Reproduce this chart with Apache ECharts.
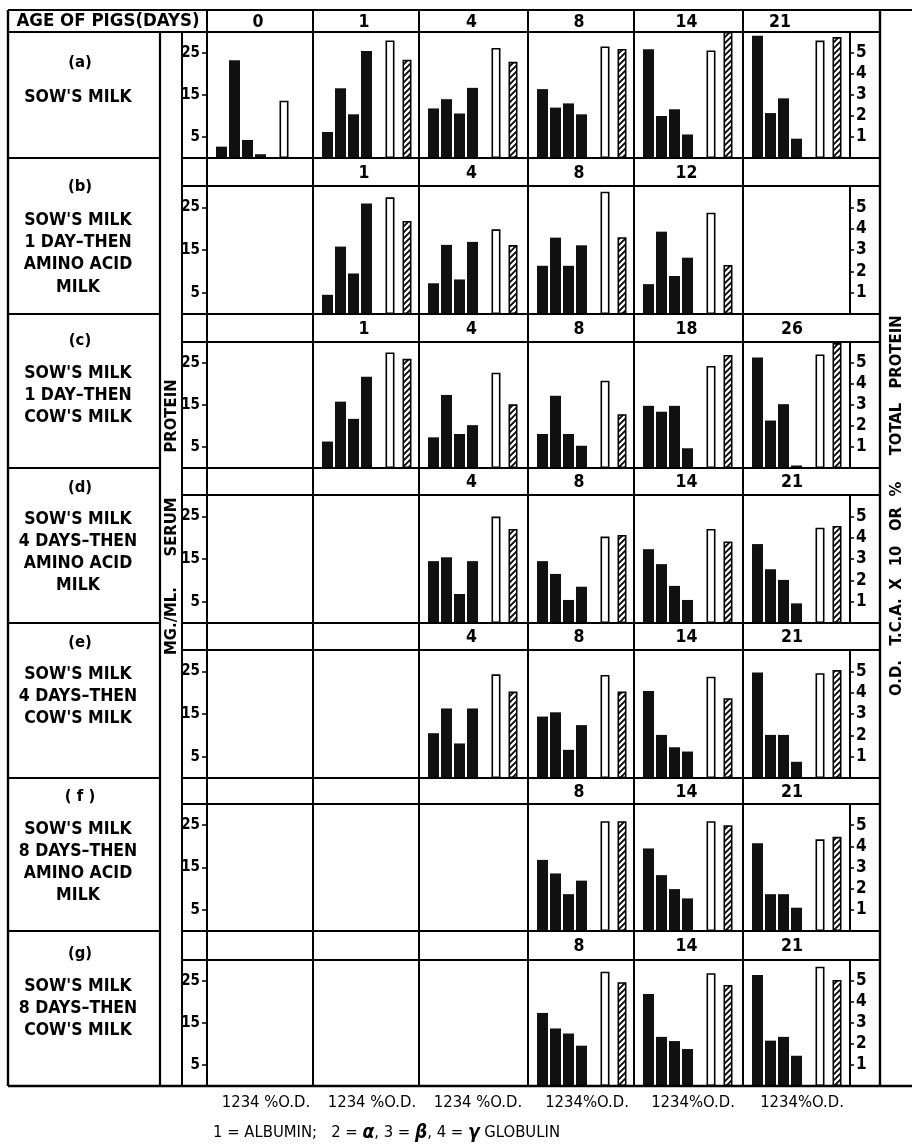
<!DOCTYPE html>
<html>
<head>
<meta charset="utf-8">
<title>Serum protein fractions of pigs</title>
<script src="https://cdn.jsdelivr.net/npm/echarts/dist/echarts.min.js"></script>
<style>
  html, body { margin: 0; padding: 0; background: #fff; }
  #chart { width: 915px; height: 1145px; }
</style>
</head>
<body>
<div id="chart"></div>
<script>
// Serum protein fractions (mg/ml: 1 albumin, 2 alpha, 3 beta, 4 gamma globulin),
// total protein (%) and O.D. of T.C.A. precipitate x10, by age of pigs (days).
const fractionLabels = ['1', '2', '3', '4'];
const measureLabels = ['%', 'O.D.'];
const leftTicks = [5, 15, 25];
const rightTicks = [1, 2, 3, 4, 5];

const rowLetters = ['(a)', '(b)', '(c)', '(d)', '(e)', '( f )', '(g)'];
const rowTexts = [
  ["SOW'S MILK"],
  ["SOW'S MILK", '1 DAY–THEN', 'AMINO ACID', 'MILK'],
  ["SOW'S MILK", '1 DAY–THEN', "COW'S MILK"],
  ["SOW'S MILK", '4 DAYS–THEN', 'AMINO ACID', 'MILK'],
  ["SOW'S MILK", '4 DAYS–THEN', "COW'S MILK"],
  ["SOW'S MILK", '8 DAYS–THEN', 'AMINO ACID', 'MILK'],
  ["SOW'S MILK", '8 DAYS–THEN', "COW'S MILK"]
];

// (a) sow's milk
const agesA = ['0', '1', '4', '8', '14', '21'];
const fractionsA = [[2.7, 23.3, 4.3, 0.9], [6.2, 16.6, 10.4, 25.5], [11.8, 14.0, 10.6, 16.7], [16.4, 12.0, 13.0, 10.4], [25.9, 10.0, 11.6, 5.6], [29.1, 10.7, 14.2, 4.6]];
const pctA = [2.73, 5.6, 5.24, 5.31, 5.12, 5.59];
const odA = [null, 4.68, 4.58, 5.19, 6.0, 5.76];

// (b) sow's milk 1 day, then amino acid milk
const agesB = ['', '1', '4', '8', '12', ''];
const fractionsB = [null, [4.5, 15.8, 9.5, 25.9], [7.2, 16.2, 8.1, 16.9], [11.3, 17.9, 11.3, 16.1], [7.0, 19.3, 8.9, 13.2], null];
const pctB = [null, 5.47, 3.97, 5.73, 4.75, null];
const odB = [null, 4.36, 3.23, 3.6, 2.3, null];

// (c) sow's milk 1 day, then cow's milk
const agesC = ['', '1', '4', '8', '18', '26'];
const fractionsC = [null, [6.3, 15.8, 11.7, 21.7], [7.3, 17.4, 8.1, 10.2], [8.1, 17.2, 8.1, 5.3], [14.8, 13.4, 14.8, 4.7], [26.3, 11.3, 15.2, 0.6]];
const pctC = [null, 5.5, 4.54, 4.16, 4.86, 5.41];
const odC = [null, 5.2, 3.03, 2.56, 5.38, 5.95];

// (d) sow's milk 4 days, then amino acid milk
const agesD = ['', '', '4', '8', '14', '21'];
const fractionsD = [null, null, [14.5, 15.4, 6.8, 14.5], [14.5, 11.5, 5.4, 8.5], [17.3, 13.8, 8.7, 5.4], [18.5, 12.6, 10.1, 4.6]];
const pctD = [null, null, 4.99, 4.05, 4.41, 4.47];
const odD = [null, null, 4.41, 4.13, 3.82, 4.55];

// (e) sow's milk 4 days, then cow's milk
const agesE = ['', '', '4', '8', '14', '21'];
const fractionsE = [null, null, [10.5, 16.3, 8.1, 16.3], [14.4, 15.4, 6.6, 12.4], [20.4, 10.1, 7.2, 6.2], [24.7, 10.1, 10.1, 3.8]];
const pctE = [null, null, 4.86, 4.83, 4.75, 4.91];
const odE = [null, null, 4.05, 4.05, 3.74, 5.06];

// (f) sow's milk 8 days, then amino acid milk
const agesF = ['', '', '', '8', '14', '21'];
const fractionsF = [null, null, null, [16.8, 13.6, 8.7, 11.9], [19.5, 13.2, 9.9, 7.7], [20.7, 8.7, 8.7, 5.5]];
const pctF = [null, null, null, 5.19, 5.19, 4.33];
const odF = [null, null, null, 5.19, 5.0, 4.45];

// (g) sow's milk 8 days, then cow's milk
const agesG = ['', '', '', '8', '14', '21'];
const fractionsG = [null, null, null, [17.4, 13.7, 12.5, 9.6], [21.9, 11.7, 10.7, 8.8], [26.4, 10.8, 11.7, 7.2]];
const pctG = [null, null, null, 5.44, 5.37, 5.68];
const odG = [null, null, null, 4.94, 4.81, 5.05];

const rows = [
  { ages: agesA, fr: fractionsA, pct: pctA, od: odA },
  { ages: agesB, fr: fractionsB, pct: pctB, od: odB },
  { ages: agesC, fr: fractionsC, pct: pctC, od: odC },
  { ages: agesD, fr: fractionsD, pct: pctD, od: odD },
  { ages: agesE, fr: fractionsE, pct: pctE, od: odE },
  { ages: agesF, fr: fractionsF, pct: pctF, od: odF },
  { ages: agesG, fr: fractionsG, pct: pctG, od: odG }
];

// ---- table geometry ----
const FONT = "'Liberation Sans Narrow', 'DejaVu Sans Condensed', 'Liberation Sans', Arial, sans-serif";
const colX = [207, 313, 419, 528, 634, 743];
const colEnd = 850;
const frameL = 8, frameT = 10, frameR = 880, frameB = 1086;
const headTop = [10, 158, 314, 468, 623, 778, 931];
const plotTop = [32, 186, 342, 495, 650, 804, 960];
const plotBot = [158, 314, 468, 623, 778, 931, 1086];
const labelY = [
  [63, 97],
  [187, 220, 242, 264, 287],
  [341, 373, 395, 417],
  [488, 519, 541, 563, 585],
  [643, 674, 696, 718],
  [797, 829, 851, 873, 895],
  [954, 986, 1008, 1030]
];

// diagonal hatch fill
function hatchPattern() {
  const c = document.createElement('canvas');
  c.width = 6; c.height = 6;
  const g = c.getContext('2d');
  g.fillStyle = '#fff'; g.fillRect(0, 0, 6, 6);
  g.strokeStyle = '#000'; g.lineWidth = 1.8;
  g.beginPath();
  g.moveTo(-1, 7); g.lineTo(7, -1);
  g.moveTo(-4, 4); g.lineTo(4, -4);
  g.moveTo(2, 10); g.lineTo(10, 2);
  g.stroke();
  return { image: c, repeat: 'repeat' };
}
const hatch = hatchPattern();

const grids = [], xAxes = [], yAxes = [], series = [], els = [];

function line(x1, y1, x2, y2, w) {
  els.push({ type: 'line', z: 50, shape: { x1, y1, x2, y2 }, style: { stroke: '#000', lineWidth: w || 2 } });
}
function text(str, x, y, size, opts) {
  els.push(Object.assign({
    type: 'text', z: 50, x, y,
    style: Object.assign({ text: str, x: 0, y: 0, fill: '#000', textAlign: 'center', textVerticalAlign: 'middle',
      font: 'bold ' + size + 'px ' + FONT }, (opts && opts.style) || {})
  }, (opts && opts.el) || {}));
}

rows.forEach((row, r) => {
  const top = plotTop[r], h = plotBot[r] - plotTop[r];

  // scale grid for the row: left mg/ml axis, right O.D. / % axis
  const gi = grids.length;
  grids.push({ left: colX[0], top, width: colEnd - colX[0], height: h });
  xAxes.push({ gridIndex: gi, type: 'category', data: [''], show: false });
  yAxes.push({
    gridIndex: gi, type: 'value', min: 0, max: 30, position: 'left',
    axisLine: { show: false }, splitLine: { show: false },
    axisTick: { show: true, length: 5, customValues: leftTicks, lineStyle: { color: '#000', width: 1.5 } },
    axisLabel: { show: true, customValues: leftTicks, margin: 7, color: '#000', fontSize: 15, fontWeight: 'bold', fontFamily: FONT }
  });
  yAxes.push({
    gridIndex: gi, type: 'value', min: 0, max: 6, position: 'right',
    axisLine: { show: false }, splitLine: { show: false },
    axisTick: { show: true, length: 4, inside: false, customValues: rightTicks, lineStyle: { color: '#000', width: 1.5 } },
    axisLabel: { show: true, customValues: rightTicks, margin: 6, color: '#000', fontSize: 17, fontWeight: 'bold', fontFamily: FONT }
  });

  row.ages.forEach((age, c) => {
    if (!row.fr[c]) return;
    const L = colX[c];
    // protein fractions
    const gb = grids.length;
    grids.push({ left: L + 8, top, width: 52, height: h });
    xAxes.push({ gridIndex: gb, type: 'category', data: fractionLabels, show: false });
    yAxes.push({ gridIndex: gb, type: 'value', min: 0, max: 30, show: false });
    series.push({
      type: 'bar', xAxisIndex: xAxes.length - 1, yAxisIndex: yAxes.length - 1,
      barWidth: 11, data: row.fr[c], itemStyle: { color: '#111' }, silent: true, animation: false
    });
    // total protein and O.D.
    const gm = grids.length;
    grids.push({ left: L + 68.5, top, width: 34, height: h });
    xAxes.push({ gridIndex: gm, type: 'category', data: measureLabels, show: false });
    yAxes.push({ gridIndex: gm, type: 'value', min: 0, max: 6, show: false });
    series.push({
      type: 'bar', xAxisIndex: xAxes.length - 1, yAxisIndex: yAxes.length - 1,
      barWidth: 9, silent: true, animation: false,
      data: [
        { value: row.pct[c], itemStyle: { color: '#fff', borderColor: '#000', borderWidth: 1.6 } },
        { value: row.od[c], itemStyle: { color: hatch, borderColor: '#000', borderWidth: 1.6 } }
      ]
    });
  });

  // column headers for the row
  const hy = (headTop[r] + plotTop[r]) / 2 + 1;
  row.ages.forEach((age, c) => {
    if (!age) return;
    const cx = c === 5 ? (r === 0 ? 780 : 792) : (colX[c] + (c + 1 < colX.length ? colX[c + 1] : colEnd)) / 2 - 2;
    text(age, cx, hy, 17.5);
  });

  // row label
  text(rowLetters[r], 80, labelY[r][0], 16.5);
  rowTexts[r].forEach((t, i) => text(t, 78, labelY[r][i + 1], 17.5));

  // row lines
  if (r > 0) {
    line(frameL, headTop[r], 160, headTop[r]);
    line(182, headTop[r], frameR, headTop[r]);
    line(182, plotTop[r], frameR, plotTop[r]);
  }
  line(colEnd, plotTop[r], colEnd, plotBot[r], 2);
});

// frame and column rules
line(frameL, frameT, 912, frameT, 2.2);
line(frameL, frameB, 912, frameB, 2.4);
line(frameL, 32, frameR, 32, 2.2);
line(frameL, frameT, frameL, frameB, 2.4);
line(frameR, frameT, frameR, frameB, 2.4);
line(160, 32, 160, frameB, 2.2);
line(182, 32, 182, frameB, 2);
colX.forEach(x => line(x, frameT, x, frameB, 2));

text('AGE OF PIGS(DAYS)', 108, 21.5, 18.5);

// axis titles (read bottom to top)
const leftTitle = [['MG./ML.', 621], ['SERUM', 527], ['PROTEIN', 416]];
leftTitle.forEach(([w, y]) => text(w, 172, y, 16.5, { el: { rotation: Math.PI / 2 } }));
const rightTitle = [['O.D.', 678], ['T.C.A.', 622], ['X', 584], ['10', 556], ['OR', 519], ['%', 489], ['TOTAL', 429], ['PROTEIN', 352]];
rightTitle.forEach(([w, y]) => text(w, 897, y, 16.5, { el: { rotation: Math.PI / 2 } }));

// category key under each column
colX.forEach((x, c) => {
  const label = fractionLabels.join('') + (c < 3 ? ' ' : '') + measureLabels.join('');
  text(label, x + 59, 1103, 16.5, { style: { font: '16.5px ' + FONT } });
});

els.push({
  type: 'text', z: 50, x: 213, y: 1133,
  style: {
    text: '{a|1 = ALBUMIN;   2 = }{g|α}{a|, 3 = }{g|β}{a|, 4 = }{g|γ}{a| GLOBULIN}',
    x: 0, y: 0, textVerticalAlign: 'middle', textAlign: 'left',
    rich: {
      a: { font: '16.5px ' + FONT, fill: '#000' },
      g: { font: 'italic bold 19px ' + FONT, fill: '#000' }
    }
  }
});

const chart = echarts.init(document.getElementById('chart'), null, { renderer: 'canvas' });
chart.setOption({
  animation: false,
  backgroundColor: '#fff',
  grid: grids,
  xAxis: xAxes,
  yAxis: yAxes,
  series: series,
  graphic: { elements: els }
});
</script>
</body>
</html>
